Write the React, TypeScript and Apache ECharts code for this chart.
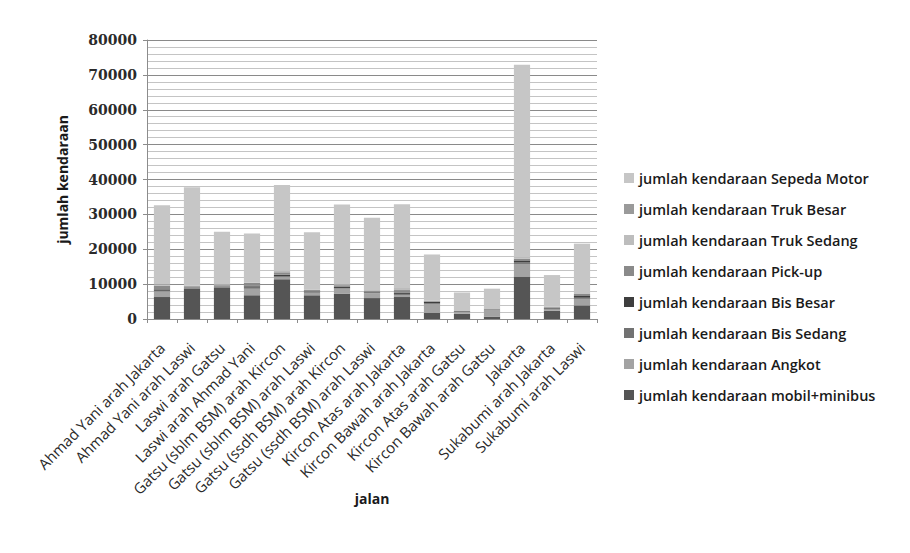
import React, { useEffect, useRef } from "react";
import * as echarts from "echarts";

const categories = [
  "Ahmad Yani arah Jakarta",
  "Ahmad Yani arah Laswi",
  "Laswi arah Gatsu",
  "Laswi arah Ahmad Yani",
  "Gatsu (sblm BSM) arah Kircon",
  "Gatsu (sblm BSM) arah Laswi",
  "Gatsu (ssdh BSM) arah Kircon",
  "Gatsu (ssdh BSM) arah Laswi",
  "Kircon Atas arah Jakarta",
  "Kircon Bawah arah Jakarta",
  "Kircon Atas arah Gatsu",
  "Kircon Bawah arah Gatsu",
  "Jakarta",
  "Sukabumi arah Jakarta",
  "Sukabumi arah Laswi",
];

const mobilMinibus = [6300, 8800, 9100, 6800, 11400, 6800, 7200, 6000, 6300, 1800, 1500, 700, 12200, 2400, 3900];
const angkot = [1600, 100, 100, 1900, 600, 700, 1500, 1400, 600, 2500, 500, 2000, 3600, 300, 1900];
const bisSedang = [200, 100, 100, 600, 200, 200, 200, 200, 300, 200, 200, 100, 500, 300, 300];
const bisBesar = [400, 100, 100, 300, 500, 200, 300, 200, 400, 500, 100, 100, 500, 200, 500];
const pickUp = [1000, 300, 300, 700, 700, 400, 500, 300, 700, 100, 100, 100, 500, 200, 600];
const trukSedang = [300, 100, 100, 100, 200, 100, 100, 100, 300, 100, 50, 0, 200, 50, 100];
const trukBesar = [200, 100, 100, 100, 200, 100, 100, 100, 200, 100, 50, 0, 200, 50, 100];
const sepedaMotor = [22600, 28200, 15100, 14000, 24600, 16400, 22900, 20700, 24100, 13200, 5100, 5700, 55200, 9100, 14200];

const seriesNames = [
  "jumlah kendaraan mobil+minibus",
  "jumlah kendaraan Angkot",
  "jumlah kendaraan Bis Sedang",
  "jumlah kendaraan Bis Besar",
  "jumlah kendaraan Pick-up",
  "jumlah kendaraan Truk Sedang",
  "jumlah kendaraan Truk Besar",
  "jumlah kendaraan Sepeda Motor",
];
const seriesData = [mobilMinibus, angkot, bisSedang, bisBesar, pickUp, trukSedang, trukBesar, sepedaMotor];
const seriesColors = ["#555555", "#a3a3a3", "#727272", "#3e3e3e", "#8a8a8a", "#bdbdbd", "#9a9a9a", "#c6c6c6"];

const yTicks = { min: 0, max: 80000, interval: 10000 };

export default function App() {
  const ref = useRef<HTMLDivElement>(null);
  useEffect(() => {
    if (!ref.current) return;
    const chart = echarts.init(ref.current, null, { renderer: "svg" });
    const sansFont = "'Open Sans', sans-serif";
    chart.setOption({
      animation: false,
      backgroundColor: "#ffffff",
      grid: { left: 147, right: 313, top: 40, bottom: 234, containLabel: false },
      legend: {
        orient: "vertical",
        left: 619,
        top: 164,
        itemWidth: 10,
        itemHeight: 10,
        itemGap: 13,
        icon: "rect",
        data: seriesNames.slice().reverse(),
        textStyle: { fontFamily: sansFont, fontSize: 14.5, fontWeight: 600, color: "#1a1a1a", lineHeight: 18 },
      },
      xAxis: {
        type: "category",
        data: categories,
        name: "jalan",
        nameLocation: "middle",
        nameGap: 172,
        nameMoveOverlap: false,
        nameTextStyle: { fontFamily: sansFont, fontSize: 14, fontWeight: 700, color: "#1a1a1a" },
        axisLine: { lineStyle: { color: "#8c8c8c" } },
        axisTick: { show: true, length: 4, lineStyle: { color: "#8c8c8c" } },
        axisLabel: {
          rotate: 45,
          interval: 0,
          margin: 26,
          fontFamily: sansFont,
          fontSize: 15,
          color: "#2a2a2a",
        },
      },
      yAxis: {
        type: "value",
        min: yTicks.min,
        max: yTicks.max,
        interval: yTicks.interval,
        name: "jumlah kendaraan",
        nameLocation: "middle",
        nameGap: 78,
        nameMoveOverlap: false,
        nameTextStyle: { fontFamily: sansFont, fontSize: 14, fontWeight: 700, color: "#1a1a1a" },
        axisLine: { show: true, lineStyle: { color: "#8c8c8c" } },
        axisTick: { show: true, length: 4, lineStyle: { color: "#8c8c8c" } },
        axisLabel: {
          margin: 10,
          fontFamily: "'DejaVu Serif', serif",
          fontSize: 14,
          fontWeight: 700,
          color: "#2a2a2a",
          formatter: (v: number) => String(v),
        },
        splitLine: { show: true, lineStyle: { color: "#8a8a8a", width: 1 } },
        minorTick: { show: false, splitNumber: 5 },
        minorSplitLine: { show: true, lineStyle: { color: "#c4c4c4", width: 1 } },
      },
      series: seriesNames.map((name, i) => ({
        name,
        type: "bar",
        stack: "total",
        barWidth: "54%",
        data: seriesData[i],
        itemStyle: { color: seriesColors[i] },
      })),
    });
    return () => chart.dispose();
  }, []);
  return (
    <div
      ref={ref}
      style={{ position: "fixed", left: 0, top: 0, width: 910, height: 553, background: "#fff" }}
    />
  );
}
